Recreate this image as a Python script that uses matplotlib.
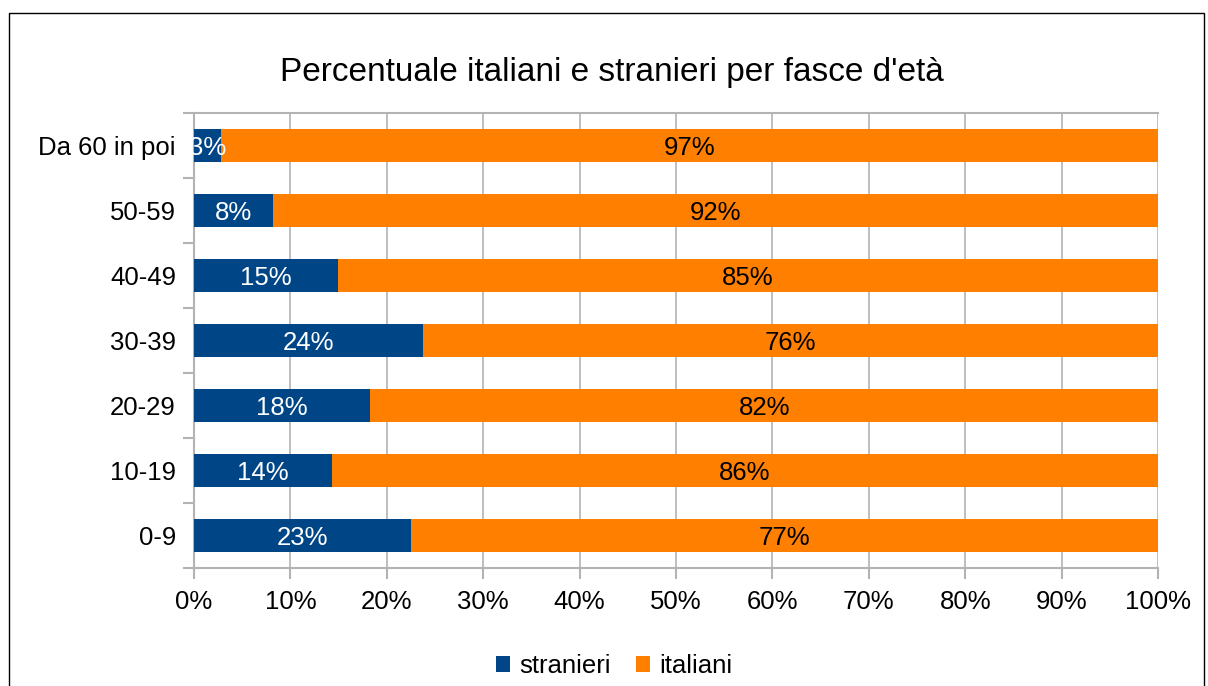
import numpy as np
import matplotlib.pyplot as plt
from matplotlib.patches import Rectangle

plt.rcParams['font.family'] = ['Liberation Sans', 'DejaVu Sans']

categories = ['0-9', '10-19', '20-29', '30-39', '40-49', '50-59', 'Da 60 in poi']
stranieri = [22.5, 14.3, 18.3, 23.8, 14.9, 8.2, 2.8]
italiani = [77.5, 85.7, 81.7, 76.2, 85.1, 91.8, 97.2]
stranieri_lbl = ['23%', '14%', '18%', '24%', '15%', '8%', '3%']
italiani_lbl = ['77%', '86%', '82%', '76%', '85%', '92%', '97%']
xticks = np.arange(0, 101, 10)

BLUE = '#004586'
ORANGE = '#ff8000'
GRID = '#b3b3b3'

fig = plt.figure(figsize=(12.08, 6.86), dpi=100)
ax = fig.add_axes([194 / 1208, 1 - 568 / 686, (1158 - 194) / 1208, (568 - 113) / 686])

# outer frame of the chart
fig.patches.append(Rectangle((9 / 1208, -0.01), (1204 - 9) / 1208, 1 - 13 / 686 + 0.01,
                             transform=fig.transFigure, fill=False,
                             edgecolor='black', linewidth=1.0))

y = np.arange(len(categories))
ax.barh(y, stranieri, height=0.5, color=BLUE, label='stranieri', zorder=3)
ax.barh(y, italiani, left=stranieri, height=0.5, color=ORANGE, label='italiani', zorder=3)

for i in range(len(categories)):
    ax.text(stranieri[i] / 2, y[i], stranieri_lbl[i], ha='center', va='center_baseline',
            color='white', fontsize=18.5, zorder=4)
    ax.text(stranieri[i] + italiani[i] / 2, y[i], italiani_lbl[i], ha='center',
            va='center_baseline', color='black', fontsize=18.5, zorder=4)

ax.set_xlim(0, 100)
ax.set_ylim(-0.5, len(categories) - 0.5)
ax.set_xticks(xticks)
ax.set_xticklabels([f'{v}%' for v in xticks], fontsize=18.5)
ax.set_yticks(y)
ax.set_yticklabels(categories, fontsize=18.5)
ax.set_yticks(np.arange(-0.5, len(categories), 1), minor=True)
ax.tick_params(axis='y', which='major', length=0, pad=13)
ax.tick_params(axis='y', which='minor', length=8, color=GRID, width=1.5)
ax.tick_params(axis='x', length=8, color=GRID, width=1.5, pad=8)
ax.grid(True, axis='x', color=GRID, linewidth=1.2, zorder=0)
for side in ['left', 'bottom', 'top']:
    ax.spines[side].set_color(GRID)
    ax.spines[side].set_linewidth(1.5)
ax.spines['right'].set_visible(False)

fig.text(612 / 1208, 1 - 73 / 686, "Percentuale italiani e stranieri per fasce d'età",
         ha='center', va='center', fontsize=24)

fig.legend(loc='center', bbox_to_anchor=(614 / 1208, 1 - 666 / 686), ncol=2,
           frameon=False, fontsize=18.5, handlelength=0.55, handleheight=0.55,
           handletextpad=0.35, columnspacing=1.0)

fig.savefig('out.png', dpi=100)
